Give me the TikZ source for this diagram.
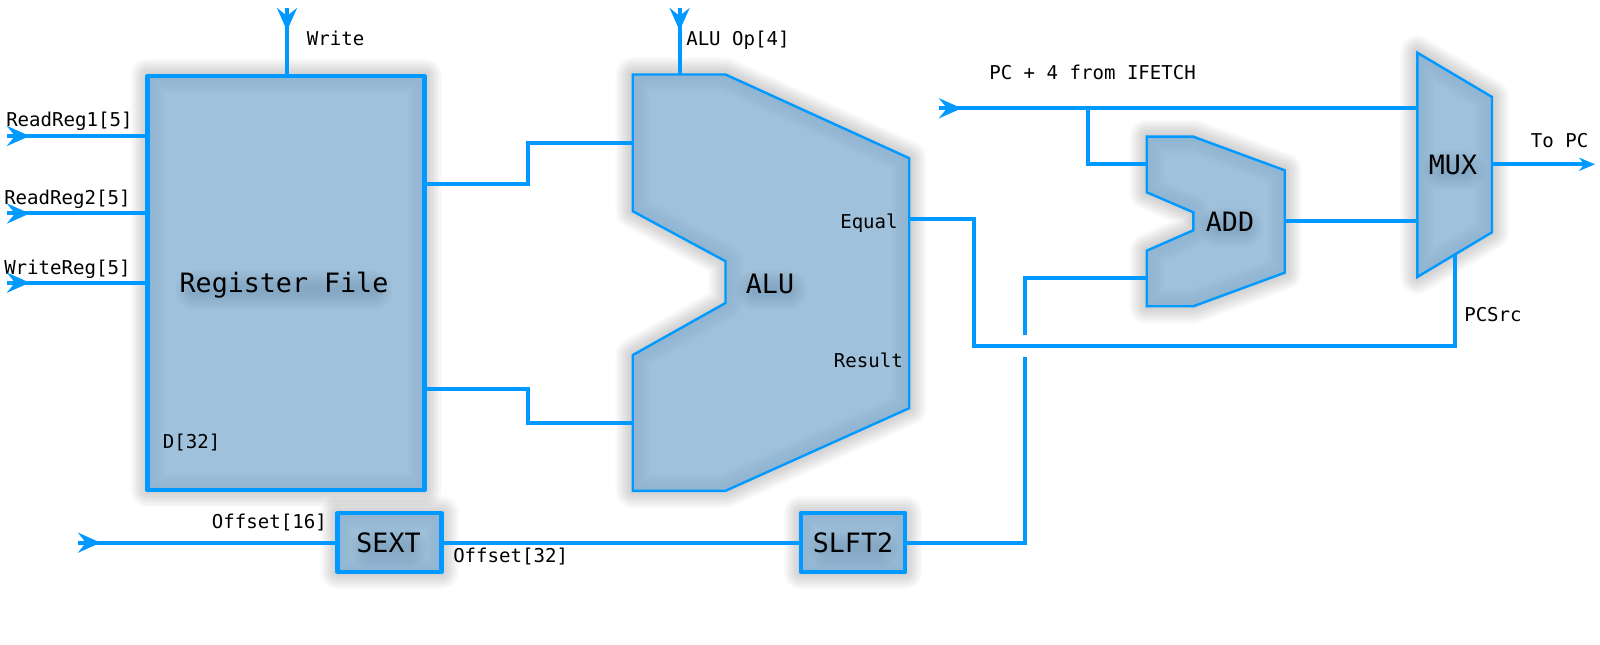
\documentclass[tikz,border=0pt]{standalone}
\usepackage{fontspec}
\setmainfont{DejaVu Sans Mono}
\usetikzlibrary{arrows.meta,decorations.markings,backgrounds}
\definecolor{wireblue}{HTML}{0099FF}
\definecolor{blockfill}{HTML}{9FC1DB}
\definecolor{blockedge}{HTML}{7FA3C0}
\definecolor{glowblue}{HTML}{3F6688}
\newcommand{\softblock}[1]{%
  \begin{scope}[shift={(0,8)}]
    \foreach \w in {26,24,...,2}{\draw[black,opacity=.016,line width=\w pt,line join=round] #1;}
    \fill[black,opacity=.15] #1;
  \end{scope}
  \fill[blockfill] #1;
  \begin{scope}
    \clip #1;
    \foreach \w in {26,23,20,17,14,11,8,5}{\draw[blockedge,opacity=.045,line width=\w pt,line join=round] #1;}
  \end{scope}}
\newcommand{\glowat}[3]{% x1, x2, y
  \foreach \w in {30,27,24,21,18,15,12,9,6}{\draw[glowblue,opacity=.028,line width=\w pt,line cap=round] (#1,#3) -- (#2,#3);}}
\tikzset{
  x=0.75pt,y=-0.75pt,
  wire/.style={wireblue,line width=3pt,line join=miter},
  inwire/.style={wire,decoration={markings,mark=at position 17pt with {\arrow[wireblue]{Stealth[length=17pt,width=15pt,inset=6pt]}}},postaction={decorate}},
  outwire/.style={wire,-{Stealth[length=12pt,width=10pt]}},
  thickblock/.style={draw=wireblue,line width=3.4pt,line join=round,inner sep=0pt,outer sep=0pt},
  thinblock/.style={draw=wireblue,line width=1.8pt,line join=miter},
  biglabel/.style={inner sep=0pt,font=\fontsize{20}{24}\selectfont,text=black},
  lab/.style={inner sep=0pt,anchor=base west,font=\fontsize{14.3}{17}\selectfont,text=black},
}
\begin{document}
\begin{tikzpicture}
\useasboundingbox (0,0) rectangle (1600,645);

% rectangular blocks
\node[thickblock,minimum width=207.75pt,minimum height=310.5pt] (regfile) at (286,283) {};
\node[thickblock,minimum width=78pt,minimum height=44pt] (sext) at (389.5,542.5) {};
\node[thickblock,minimum width=78pt,minimum height=44pt] (slft) at (853,542.5) {};

% vertices of the polygon blocks
\coordinate (a1) at (632.7,74.5);  \coordinate (a2) at (725.5,74.5);
\coordinate (a3) at (909.2,158.2); \coordinate (a4) at (909.2,408.2);
\coordinate (a5) at (725.5,490.8); \coordinate (a6) at (632.7,490.8);
\coordinate (a7) at (632.7,355.1); \coordinate (a8) at (725.5,303);
\coordinate (a9) at (725.5,261.2); \coordinate (a10) at (632.7,211.2);

\coordinate (d1) at (1146.7,136.7); \coordinate (d2) at (1193.3,136.7);
\coordinate (d3) at (1284.7,170.3); \coordinate (d4) at (1284.7,272.7);
\coordinate (d5) at (1193.3,306.3); \coordinate (d6) at (1146.7,306.3);
\coordinate (d7) at (1146.7,250.7); \coordinate (d8) at (1193.3,230.3);
\coordinate (d9) at (1193.3,212.3); \coordinate (d10) at (1146.7,192.3);

\coordinate (m1) at (1417.3,52.7); \coordinate (m2) at (1492,97);
\coordinate (m3) at (1492,232.3);  \coordinate (m4) at (1417.3,277);

\begin{pgfonlayer}{background}
  \softblock{(regfile.north west) rectangle (regfile.south east)}
  \softblock{(sext.north west) rectangle (sext.south east)}
  \softblock{(slft.north west) rectangle (slft.south east)}
  \softblock{(a1)--(a2)--(a3)--(a4)--(a5)--(a6)--(a7)--(a8)--(a9)--(a10)--cycle}
  \softblock{(d1)--(d2)--(d3)--(d4)--(d5)--(d6)--(d7)--(d8)--(d9)--(d10)--cycle}
  \softblock{(m1)--(m2)--(m3)--(m4)--cycle}
  \glowat{195}{373}{290}
  \glowat{755}{787}{290}
  \glowat{1219}{1243}{227}
  \glowat{1443}{1465}{170}
  \glowat{370}{408}{548}
  \glowat{828}{879}{548}
\end{pgfonlayer}

\draw[thinblock] (a1)--(a2)--(a3)--(a4)--(a5)--(a6)--(a7)--(a8)--(a9)--(a10)--cycle;
\draw[thinblock] (d1)--(d2)--(d3)--(d4)--(d5)--(d6)--(d7)--(d8)--(d9)--(d10)--cycle;
\draw[thinblock] (m1)--(m2)--(m3)--(m4)--cycle;

% block titles
\node[biglabel] (tregfile) at (284,285) {Register File};
\node[biglabel] (talu) at (770,284) {ALU};
\node[biglabel] (tadd) at (1230,221.5) {ADD};
\node[biglabel] (tmux) at (1453,165) {MUX};
\node[biglabel] (tsext) at (388.5,542.5) {SEXT};
\node[biglabel] (tslft) at (853,542.5) {SLFT2};

% small labels
\node[lab] (lwrite) at (306.7,45.5) {Write};
\node[lab] (lrr1) at (6,127) {ReadReg1[5]};
\node[lab] (lrr2) at (4,204.5) {ReadReg2[5]};
\node[lab] (lwr) at (4,274.5) {WriteReg[5]};
\node[lab] (ld) at (162.7,448.5) {D[32]};
\node[lab] (lop) at (686,45.5) {ALU Op[4]};
\node[lab] (lpc4) at (989,79.5) {PC + 4 from IFETCH};
\node[lab] (leq) at (840,228.5) {Equal};
\node[lab] (lres) at (833.7,367.5) {Result};
\node[lab] (loff16) at (211.7,528.3) {Offset[16]};
\node[lab] (loff32) at (453,562.7) {Offset[32]};
\node[lab] (lsrc) at (1464,321.5) {PCSrc};
\node[lab] (lto) at (1530.7,147.7) {To PC};

% free ends and ports
\coordinate (writein) at (287,8);
\coordinate (rr1in) at (7,136);
\coordinate (rr2in) at (7,213.5);
\coordinate (wrin) at (7,282.7);
\coordinate (opin) at (679.6,8);
\coordinate (pcin) at (939,108.3);
\coordinate (offin) at (78,542.7);
\coordinate (pcout) at (1595,164.3);
\coordinate (rr1end) at (150,136);
\coordinate (rr2end) at (150,213.5);
\coordinate (rfa) at (regfile.east |- 0,184.5);
\coordinate (rfb) at (regfile.east |- 0,389);
\coordinate (alua) at (632.7,143);
\coordinate (alub) at (632.7,422.5);
\coordinate (addout) at (1284.7,221);
\coordinate (muxb) at (1417.3,221);
\coordinate (muxa) at (1417.3,108.3);
\coordinate (adda) at (1146.7,164);
\coordinate (addb) at (1146.7,278.3);
\coordinate (eq) at (909.2,219.4);
\coordinate (srcend) at (1455,254.4);
\coordinate (mo) at (1492,164.3);
\coordinate (gaptop) at (1024.5,334.7);
\coordinate (gapbot) at (1024.5,357);
\coordinate (branch) at (1088,108.3);

% wires
\draw[inwire] (writein) -- (writein |- regfile.north);
\draw[inwire] (rr1in) -- (rr1end);
\draw[inwire] (rr2in) -- (rr2end);
\draw[inwire] (wrin) -- (wrin -| regfile.west);
\draw[inwire] (opin) -- (679.6,74.5);
\draw[inwire] (pcin) -- (muxa);
\draw[inwire] (offin) -- (offin -| sext.west);
\draw[wire] (rfa) -- (528,184.5) -- (528,143) -- (alua);
\draw[wire] (rfb) -- (528,389) -- (528,422.5) -- (alub);
\draw[wire] (branch) |- (adda);
\draw[wire] (addout) -- (muxb);
\draw[wire] (gaptop) |- (addb);
\draw[wire] (eq) -- (973.5,219.4) -- (973.5,346.4) -- (1455,346.4) -- (srcend);
\draw[wire] (sext.east |- 0,542.7) -- (slft.west |- 0,542.7);
\draw[wire] (slft.east |- 0,542.7) -| (gapbot);
\draw[outwire] (mo) -- (pcout);
\end{tikzpicture}
\end{document}
